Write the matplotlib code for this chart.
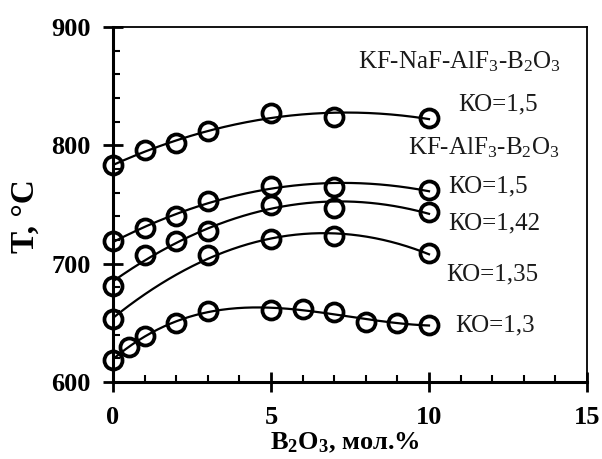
import numpy as np
import matplotlib
matplotlib.use("Agg")
import matplotlib.pyplot as plt
from matplotlib.ticker import MultipleLocator

plt.rcParams['font.family'] = ['Liberation Serif', 'DejaVu Serif']
plt.rcParams['mathtext.fontset'] = 'custom'
plt.rcParams['mathtext.rm'] = 'Liberation Serif'
plt.rcParams['mathtext.bf'] = 'Liberation Serif:bold'
plt.rcParams['mathtext.default'] = 'regular'

# Data (B2O3 mol.%, T °C)
x_nacl = [0, 1, 2, 3, 5, 7, 10]
t_kna_15 = [783, 796, 802, 812, 827, 824, 823]

x_k = [0, 1, 2, 3, 5, 7, 10]
t_k_15 = [719, 730, 740, 753, 766, 765, 762]
t_k_142 = [681, 707, 719, 728, 750, 747, 744]

x_k135 = [0, 3, 5, 7, 10]
t_k_135 = [653, 707, 721, 723, 709]

x_k13 = [0, 0.5, 1, 2, 3, 5, 6, 7, 8, 9, 10]
t_k_13 = [619, 630, 639, 650, 660, 661, 662, 659, 651, 650, 648]

series = [(x_nacl, t_kna_15, 2), (x_k, t_k_15, 2), (x_k, t_k_142, 2),
          (x_k135, t_k_135, 2), (x_k13, t_k_13, 3)]

labels = [
    (7.75, 865.3, r'KF-NaF-AlF$_3$-B$_2$O$_3$'),
    (10.92, 829.8, 'КО=1,5'),
    (9.34, 792.4, r'KF-AlF$_3$-B$_2$O$_3$'),
    (10.6, 760.3, 'КО=1,5'),
    (10.6, 729.2, 'КО=1,42'),
    (10.56, 686.0, 'КО=1,35'),
    (10.82, 642.4, 'КО=1,3'),
]

fig = plt.figure(figsize=(6.02, 4.59), dpi=100)
ax = fig.add_axes([113/602, 1-382/459, (587-113)/602, (382-27)/459])

xs = np.linspace(0, 10, 200)
for xv, tv, deg in series:
    c = np.polyfit(xv, tv, deg)
    ax.plot(xs, np.polyval(c, xs), color='black', lw=1.6, zorder=2)
    ax.plot(xv, tv, 'o', ms=13, mfc='none', mec='black', mew=2.7, zorder=3,
            clip_on=False)

for lx, ly, s in labels:
    ax.text(lx, ly, s, fontsize=18, ha='left', va='baseline', color='#1a1a1a')

ax.set_xlim(0, 15)
ax.set_ylim(600, 900)
ax.xaxis.set_major_locator(MultipleLocator(5))
ax.xaxis.set_minor_locator(MultipleLocator(1))
ax.yaxis.set_major_locator(MultipleLocator(100))
ax.yaxis.set_minor_locator(MultipleLocator(20))
ax.tick_params(which='major', direction='inout', length=14, width=2,
               labelsize=19, pad=9)
ax.tick_params(axis='x', which='major', pad=10)
ax.tick_params(which='minor', direction='in', length=5, width=1.5)
for lab in ax.get_xticklabels() + ax.get_yticklabels():
    lab.set_fontweight('bold')
ax.spines['left'].set_linewidth(2.2)
ax.spines['bottom'].set_linewidth(2.2)
ax.spines['top'].set_linewidth(1.3)
ax.spines['right'].set_linewidth(1.3)

fig.text(25/602, 1-216/459, 'T, °C', rotation=90, fontsize=24,
         fontweight='bold', ha='center', va='center')
fig.text(345/602, 1-443/459, r'B$_\mathbf{2}$O$_\mathbf{3}$, мол.%', fontsize=19,
         fontweight='bold', ha='center', va='center')

fig.savefig('out.png', dpi=100)
